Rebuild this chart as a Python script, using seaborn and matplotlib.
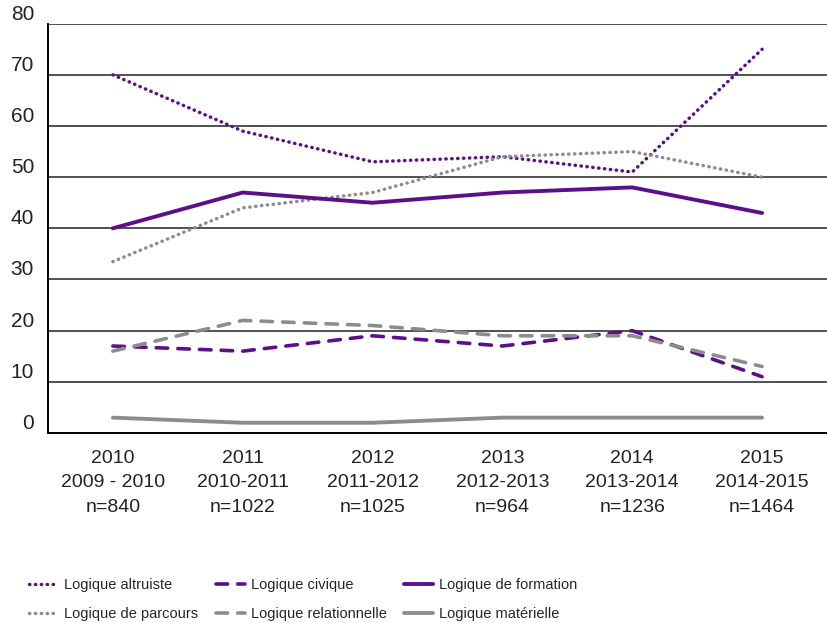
import numpy as np
import pandas as pd
import matplotlib
matplotlib.use("Agg")
import matplotlib.pyplot as plt
import seaborn as sns

# Valeurs (en %)
categories = ["2010\n2009 - 2010\nn=840", "2011\n2010-2011\nn=1022",
              "2012\n2011-2012\nn=1025", "2013\n2012-2013\nn=964",
              "2014\n2013-2014\nn=1236", "2015\n2014-2015\nn=1464"]
altruiste = [70, 59, 53, 54, 51, 75]
parcours = [33.5, 44, 47, 54, 55, 50]
civique = [17, 16, 19, 17, 20, 11]
relationnelle = [16, 22, 21, 19, 19, 13]
formation = [40, 47, 45, 47, 48, 43]
materielle = [3, 2, 2, 3, 3, 3]

PURPLE = "#5c0f8b"
GREY = "#8c8c8c"

sns.set_style("white")
plt.rcParams['font.family'] = ['Liberation Sans', 'DejaVu Sans']

x = np.arange(len(categories))
dots = (0, (0.1, 1.6))
dashes = (0, (3.2, 2.8))
series = [
    ("Logique altruiste", altruiste, PURPLE, dots, 2.5),
    ("Logique de parcours", parcours, GREY, dots, 2.5),
    ("Logique civique", civique, PURPLE, dashes, 2.6),
    ("Logique relationnelle", relationnelle, GREY, dashes, 2.6),
    ("Logique de formation", formation, PURPLE, "-", 2.8),
    ("Logique matérielle", materielle, GREY, "-", 2.8),
]

fig = plt.figure(figsize=(8.27, 6.23), dpi=100)
ax = fig.add_axes([0.058, 0.305, 0.942, 0.657])

for name, vals, col, ls, lw in series:
    df = pd.DataFrame({"x": x, "y": vals})
    sns.lineplot(data=df, x="x", y="y", ax=ax, color=col, linewidth=lw,
                 linestyle=ls, label=name, dash_capstyle="round")

ax.set_xlim(-0.5, len(categories) - 0.5)
ax.set_ylim(0, 80)
ax.set_yticks(range(0, 81, 10))
ax.yaxis.grid(True, color="#333333", linewidth=1.2)
ax.set_axisbelow(True)
ax.set_xlabel("")
ax.set_ylabel("")

ax.set_xticks(x)
ax.set_xticklabels(categories, fontsize=14, linespacing=1.6, color="#222222")
ax.set_xticks(np.arange(0.5, len(categories) - 0.5), minor=True)
ax.tick_params(axis="x", which="major", length=0, pad=12)
ax.tick_params(axis="x", which="minor", length=8, direction="in", width=1.2, color="black")
ax.tick_params(axis="y", length=0, pad=10, labelsize=15, labelcolor="#222222")
for lab in ax.get_yticklabels():
    lab.set_verticalalignment("bottom")

for side in ["top", "right"]:
    ax.spines[side].set_visible(False)
for side in ["left", "bottom"]:
    ax.spines[side].set_color("black")
    ax.spines[side].set_linewidth(1.4)

ax.legend(loc="upper left", bbox_to_anchor=(-0.024, -0.355), ncol=3, frameon=False,
          fontsize=10.5, handlelength=2.0, columnspacing=1.2, labelspacing=1.0,
          handletextpad=0.4, borderpad=0, borderaxespad=0)

fig.savefig("out.png", dpi=100)
